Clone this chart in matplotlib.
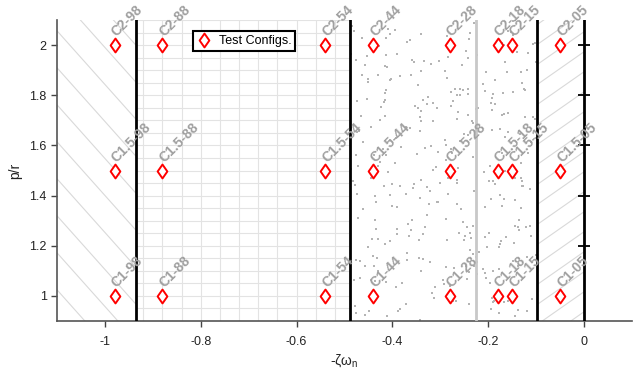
import numpy as np
import matplotlib
matplotlib.use("Agg")
import matplotlib.pyplot as plt
from matplotlib.patches import Rectangle
from matplotlib.collections import LineCollection
from matplotlib.path import Path

plt.rcParams['font.family'] = ['Liberation Sans', 'DejaVu Sans']
plt.rcParams['axes.unicode_minus'] = False
plt.rcParams['mathtext.default'] = 'regular'

# ---- data ----
zeta_codes = ['98', '88', '54', '44', '28', '18', '15', '05']
neg_zeta_wn = [-0.98, -0.88, -0.54, -0.44, -0.28, -0.18, -0.15, -0.05]
pr_values = [1.0, 1.5, 2.0]
pr_codes = ['C1', 'C1.5', 'C2']
boundaries_black = [-0.936, -0.488, -0.098, 0.0]
boundary_gray = [-0.225]
xticks = [-1, -0.8, -0.6, -0.4, -0.2, 0]
xtick_labels = ['-1', '-0.8', '-0.6', '-0.4', '-0.2', '0']
yticks = [1, 1.2, 1.4, 1.6, 1.8, 2]
ytick_labels = ['1', '1.2', '1.4', '1.6', '1.8', '2']
xlim = (-1.1, 0.1)
ylim = (0.9, 2.1)

fig = plt.figure(figsize=(6.35, 3.74), dpi=100)
ax = fig.add_axes([0.0898, 0.1417, 0.9052, 0.8048])
ax.set_xlim(*xlim)
ax.set_ylim(*ylim)

# pixel scale (for hatch geometry)
px_x = 0.9052 * 635 / (xlim[1] - xlim[0])
px_y = 0.8048 * 374 / (ylim[1] - ylim[0])


def hatch_region(x0, x1, slope_px, spacing_px, color='#d9d9d9', lw=0.8):
    slope = slope_px * px_x / px_y  # data slope
    dy = spacing_px / px_y
    rect = Rectangle((x0, ylim[0]), x1 - x0, ylim[1] - ylim[0],
                     facecolor='none', edgecolor='none')
    ax.add_patch(rect)
    span = abs(slope) * (x1 - x0)
    offsets = np.arange(ylim[0] - span - 1, ylim[1] + span + 1, dy)
    segs = [[(x0, b), (x1, b + slope * (x1 - x0))] for b in offsets]
    lc = LineCollection(segs, colors=color, linewidths=lw, zorder=1)
    ax.add_collection(lc)
    lc.set_clip_path(rect)


# left region: backslash hatch
hatch_region(xlim[0], boundaries_black[0], -1.12, 37)
# right thin region: forward hatch
hatch_region(boundaries_black[2], boundaries_black[3], 0.7, 20)

# fine grid region
gx = np.arange(-0.92, boundaries_black[1], 0.04)
gy = np.arange(0.9, 2.1001, 0.05)
grid_rect = Rectangle((boundaries_black[0], ylim[0]),
                      boundaries_black[1] - boundaries_black[0],
                      ylim[1] - ylim[0], facecolor='none', edgecolor='none')
ax.add_patch(grid_rect)
gsegs = [[(x, ylim[0]), (x, ylim[1])] for x in gx] + \
        [[(boundaries_black[0], y), (boundaries_black[1], y)] for y in gy]
glc = LineCollection(gsegs, colors='#e3e3e3', linewidths=0.8, zorder=1)
ax.add_collection(glc)
glc.set_clip_path(grid_rect)

# stipple region (decorative texture)
rng = np.random.default_rng(7)
n_dots = 340
sx = rng.uniform(boundaries_black[1], boundaries_black[2], n_dots)
sy = rng.uniform(ylim[0], ylim[1], n_dots)
ax.scatter(sx, sy, s=0.6, color='#b4b4b4', marker='s', linewidths=0, zorder=1)

# boundary lines
for xb in boundaries_black:
    ax.axvline(xb, color='black', lw=2, zorder=3)
for xb in boundary_gray:
    ax.axvline(xb, color='#c8c8c8', lw=2, zorder=3)

# tick marks on imaginary axis
ax.plot([0] * 5, yticks[1:], linestyle='none', marker='_', markersize=8,
        markeredgewidth=1.3, color='black', zorder=4)

# open diamond marker (width ~0.7 of height)
diamond = Path([(0, 1), (0.7, 0), (0, -1), (-0.7, 0), (0, 1)],
               [Path.MOVETO, Path.LINETO, Path.LINETO, Path.LINETO,
                Path.CLOSEPOLY])

# test configs
first = True
for pr, pc in zip(pr_values, pr_codes):
    ax.plot(neg_zeta_wn, [pr] * len(neg_zeta_wn), linestyle='none',
            marker=diamond, markersize=10, markerfacecolor='white',
            markeredgecolor='red', markeredgewidth=1.4, zorder=5,
            label='Test Configs.' if first else None)
    first = False
    for x, zc in zip(neg_zeta_wn, zeta_codes):
        ax.annotate(f'{pc}-{zc}', (x, pr), xytext=(3, 4),
                    textcoords='offset points', rotation=45,
                    rotation_mode='anchor', ha='left', va='bottom',
                    fontsize=10, fontweight='bold', color='#a0a0a0', zorder=6)

leg = ax.legend(loc='upper left', bbox_to_anchor=(0.236, 0.962),
                fancybox=False, framealpha=1, edgecolor='black',
                fontsize=9, handlelength=1.2, handletextpad=0.6,
                borderpad=0.3, borderaxespad=0)
leg.get_frame().set_linewidth(1.5)

ax.set_xticks(xticks)
ax.set_xticklabels(xtick_labels)
ax.set_yticks(yticks)
ax.set_yticklabels(ytick_labels)
ax.tick_params(direction='out', length=4, width=1, colors='#444444',
               labelsize=9, labelcolor='#222222')
ax.tick_params(axis='x', pad=7)
for side in ['top', 'right']:
    ax.spines[side].set_visible(False)
for side in ['left', 'bottom']:
    ax.spines[side].set_color('#555555')
    ax.spines[side].set_linewidth(1.2)

ax.set_xlabel('-ζω$_{n}$', fontsize=10, color='#222222', labelpad=3)
ax.set_ylabel('p/r', fontsize=10, color='#222222', labelpad=5)

fig.savefig('out.png', dpi=100)
